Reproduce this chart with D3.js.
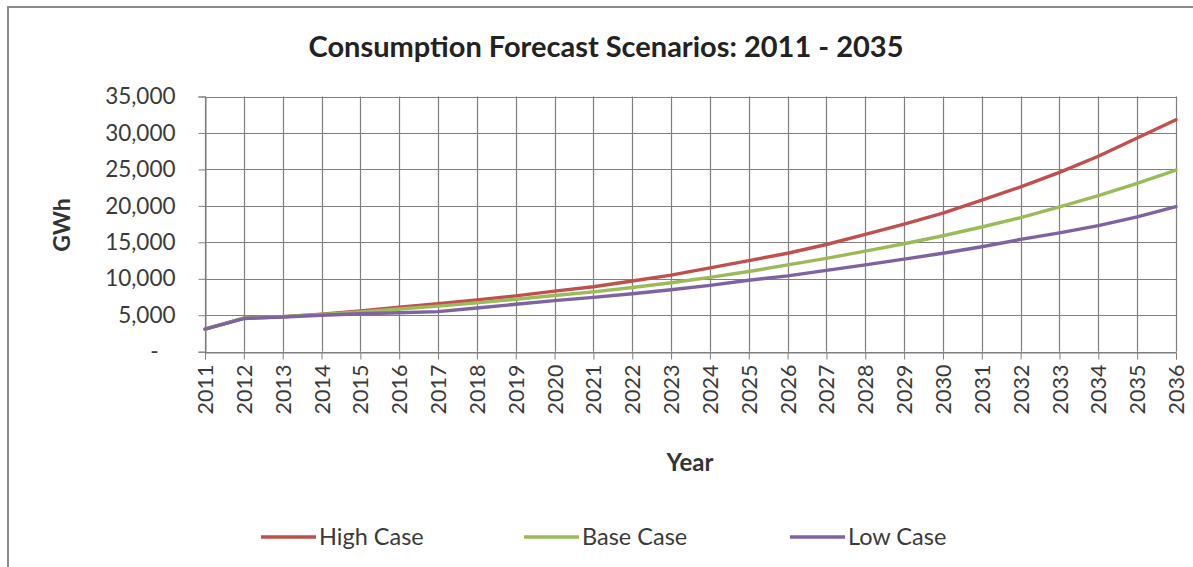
<!DOCTYPE html>
<html>
<head>
<meta charset="utf-8">
<script src="https://cdn.jsdelivr.net/npm/d3@7"></script>
<style>
  html, body { margin: 0; padding: 0; background: #fff; }
  svg { display: block; }
</style>
</head>
<body>
<svg id="chart" width="1193" height="567"></svg>
<script>
// Consumption forecast scenarios (GWh) by year
const years = [2011, 2012, 2013, 2014, 2015, 2016, 2017, 2018, 2019, 2020, 2021, 2022, 2023,
               2024, 2025, 2026, 2027, 2028, 2029, 2030, 2031, 2032, 2033, 2034, 2035, 2036];
const highCase = [3100, 4600, 4800, 5150, 5600, 6100, 6600, 7100, 7650, 8300, 8900, 9700, 10500,
                  11500, 12500, 13500, 14700, 16100, 17500, 19000, 20800, 22600, 24600, 26800, 29300, 31800];
const baseCase = [3100, 4600, 4800, 5100, 5450, 5850, 6250, 6700, 7200, 7700, 8200, 8800, 9450,
                  10200, 11000, 11900, 12800, 13800, 14800, 15900, 17100, 18400, 19850, 21400, 23100, 24900];
const lowCase  = [3100, 4550, 4750, 5000, 5200, 5350, 5500, 6000, 6500, 7000, 7450, 7950, 8500,
                  9100, 9800, 10400, 11150, 11900, 12700, 13500, 14400, 15400, 16300, 17300, 18500, 19900];
const yTicks = [0, 5000, 10000, 15000, 20000, 25000, 30000, 35000];
const seriesNames = ["High Case", "Base Case", "Low Case"];
const seriesColors = ["#C0504D", "#9BBB59", "#7F63A1"];

const series = [highCase, baseCase, lowCase].map((vals, i) => ({
  name: seriesNames[i], color: seriesColors[i],
  points: years.map((y, j) => ({ year: y, value: vals[j] }))
}));

const svg = d3.select("#chart");
const font = "Lato, 'Open Sans', sans-serif";
const plot = { left: 205, right: 1176, top: 96.5, bottom: 351.7 };

// outer chart frame
svg.append("rect")
  .attr("x", 8).attr("y", 7).attr("width", 1200).attr("height", 600)
  .attr("fill", "#fff").attr("stroke", "#8c8c8c").attr("stroke-width", 2);

const x = d3.scalePoint().domain(years).range([plot.left, plot.right]);
const y = d3.scaleLinear().domain([0, 35000]).range([plot.bottom, plot.top]);

// horizontal grid
svg.append("g").selectAll("line").data(yTicks).join("line")
  .attr("x1", plot.left).attr("x2", plot.right)
  .attr("y1", d => Math.round(y(d)) + 0.5).attr("y2", d => Math.round(y(d)) + 0.5)
  .attr("stroke", "#7f7f7f").attr("stroke-width", 1.2);

// vertical grid
svg.append("g").selectAll("line").data(years).join("line")
  .attr("x1", d => Math.round(x(d)) + 0.5).attr("x2", d => Math.round(x(d)) + 0.5)
  .attr("y1", plot.top).attr("y2", plot.bottom)
  .attr("stroke", "#7f7f7f").attr("stroke-width", 1.2);

// y axis
const yAxis = svg.append("g")
  .attr("transform", `translate(${plot.left + 0.5},0)`)
  .call(d3.axisLeft(y).tickValues(yTicks).tickSize(7).tickPadding(23)
    .tickFormat(d => d === 0 ? "-" : d3.format(",")(d)));
yAxis.select(".domain").attr("stroke", "#7f7f7f");
yAxis.selectAll(".tick line").attr("stroke", "#7f7f7f");
yAxis.selectAll(".tick text").attr("font-family", font).attr("font-size", 22.5).attr("fill", "#3a3a3a");
yAxis.selectAll(".tick").filter(d => d === 0).select("text").attr("dx", -17);

// x axis
const xAxis = svg.append("g")
  .attr("transform", `translate(0,${Math.round(plot.bottom) + 0.5})`)
  .call(d3.axisBottom(x).tickSize(7).tickPadding(0).tickFormat(d3.format("d")));
xAxis.select(".domain").attr("stroke", "#7f7f7f");
xAxis.selectAll(".tick line").attr("stroke", "#7f7f7f");
xAxis.selectAll(".tick text")
  .attr("font-family", font).attr("font-size", 21.5).attr("fill", "#3a3a3a")
  .attr("text-anchor", "end").attr("dy", "0.35em")
  .attr("transform", "translate(0,12) rotate(-90)")
  .attr("x", 0).attr("y", 0);

// series lines
const line = d3.line().x(d => x(d.year)).y(d => y(d.value));
svg.append("g").selectAll("path").data(series).join("path")
  .attr("d", d => line(d.points))
  .attr("fill", "none").attr("stroke", d => d.color)
  .attr("stroke-width", 3.4).attr("stroke-linejoin", "round").attr("stroke-linecap", "round");

// title
svg.append("text").attr("x", 606).attr("y", 57).attr("text-anchor", "middle")
  .attr("font-family", font).attr("font-weight", "bold").attr("font-size", 29).attr("fill", "#222")
  .text("Consumption Forecast Scenarios: 2011 - 2035");

// axis titles
svg.append("text").attr("transform", "translate(70,225) rotate(-90)").attr("text-anchor", "middle")
  .attr("font-family", font).attr("font-weight", "bold").attr("font-size", 23).attr("fill", "#333")
  .text("GWh");
svg.append("text").attr("x", 690).attr("y", 471).attr("text-anchor", "middle")
  .attr("font-family", font).attr("font-weight", "bold").attr("font-size", 24).attr("fill", "#333")
  .text("Year");

// legend
const legendX = [261, 524, 790];
const legend = svg.append("g").selectAll("g").data(series).join("g")
  .attr("transform", (d, i) => `translate(${legendX[i]},537)`);
legend.append("line").attr("x1", 0).attr("x2", 55).attr("y1", 0).attr("y2", 0)
  .attr("stroke", d => d.color).attr("stroke-width", 3.4);
legend.append("text").attr("x", 58).attr("y", 0).attr("dy", "0.35em")
  .attr("font-family", font).attr("font-size", 23.5).attr("fill", "#3a3a3a")
  .text(d => d.name);
</script>
</body>
</html>
